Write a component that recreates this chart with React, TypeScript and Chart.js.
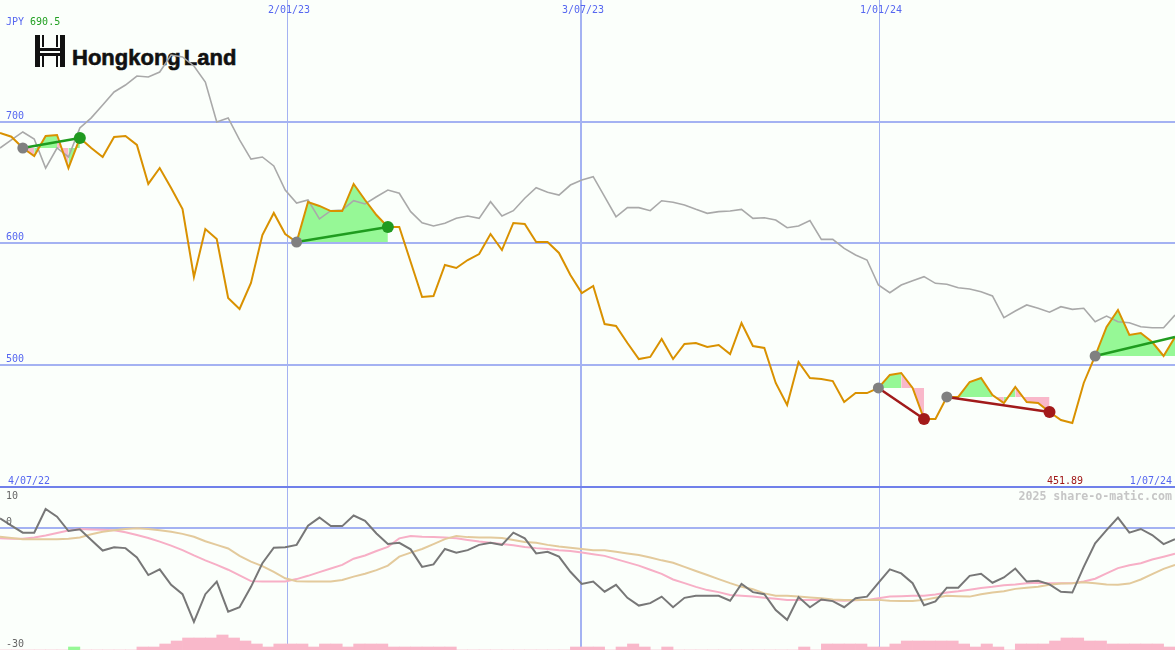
import React, { useEffect, useRef } from "react";
import { Chart, registerables } from "chart.js";

Chart.register(...registerables);

// ---------- data ----------
const currency = "JPY";
const startDateLabel = "4/07/22";
const endDateLabel = "1/07/24";
const watermark = "2025 share-o-matic.com";

// weekly closing price (index 0 = 4/07/22 ... 103 = 1/07/24)
const price = [
  690.5, 687.5, 678.2, 671.6, 688.1, 688.9, 661.7, 686.4, 678.2, 670.8,
  687.2, 688.1, 680.7, 648.6, 661.7, 645.3, 628.0, 572.0, 611.5, 603.3,
  554.7, 545.7, 567.1, 606.6, 624.7, 607.4, 600.8, 633.7, 630.5, 626.3,
  626.3, 648.6, 635.4, 623.0, 613.2, 613.2, 584.4, 555.6, 556.4, 581.9,
  579.4, 586.0, 590.9, 607.4, 594.2, 616.5, 615.6, 600.8, 600.8, 591.8,
  573.7, 558.8, 564.6, 533.3, 531.7, 517.7, 504.5, 506.2, 521.0, 504.5,
  516.9, 517.7, 514.4, 516.0, 508.6, 534.2, 515.2, 513.6, 484.8, 466.7,
  502.1, 488.9, 488.1, 486.4, 469.1, 476.5, 476.5, 480.7, 491.4, 493.0,
  480.7, 455.1, 455.1, 473.3, 473.3, 485.6, 488.9, 474.9, 468.3, 481.5,
  469.1, 468.3, 460.9, 454.3, 451.89, 484.8, 507.0, 530.9, 544.9, 524.3,
  525.9, 518.5, 507.0, 522.6,
];

// comparison (grey) line, same scale
const compare = [
  678.2, 684.8, 691.4, 685.6, 661.7, 678.2, 670.8, 694.7, 703.0, 713.6,
  724.3, 730.0, 737.4, 736.6, 740.7, 754.7, 753.1, 745.7, 732.5, 699.6,
  702.9, 684.8, 669.1, 670.8, 663.4, 643.6, 632.9, 635.4, 619.8, 626.6,
  627.2, 634.8, 632.1, 638.1, 643.6, 640.9, 625.8, 616.7, 614.0, 616.2,
  620.3, 622.2, 620.3, 634.0, 622.2, 626.6, 636.8, 645.5, 641.7, 639.5,
  647.7, 651.9, 654.6, 638.1, 621.6, 629.1, 629.1, 626.6, 634.8, 633.5,
  631.3, 627.7, 624.4, 625.8, 626.3, 627.7, 620.3, 620.8, 618.9, 612.6,
  614.0, 618.4, 603.0, 603.0, 595.6, 590.1, 586.0, 565.4, 559.1, 565.4,
  568.9, 572.3, 566.8, 566.0, 563.2, 562.1, 559.9, 556.4, 538.5, 544.0,
  549.0, 546.3, 543.0, 547.6, 545.4, 546.3, 535.2, 539.9, 535.2, 534.4,
  531.1, 530.3, 530.3, 540.7,
];

// oscillator (lower panel)
const osc = [
  2.3, 0.5, -1.2, -1.2, 4.6, 2.7, -0.8, -0.4, -3.0, -5.6,
  -4.8, -5.0, -7.3, -11.6, -10.2, -14.0, -16.3, -23.1, -16.3, -13.2,
  -20.6, -19.5, -14.5, -8.7, -4.9, -4.8, -4.2, 0.5, 2.5, 0.4,
  0.4, 3.0, 1.7, -1.4, -4.0, -3.7, -5.3, -9.6, -9.0, -5.2,
  -6.1, -5.5, -4.2, -3.7, -4.2, -1.2, -2.6, -6.3, -5.9, -7.1,
  -10.8, -13.8, -13.2, -15.7, -14.0, -17.2, -19.1, -18.5, -16.9, -19.5,
  -17.2, -16.7, -16.7, -16.7, -17.9, -13.8, -15.8, -16.3, -20.2, -22.6,
  -17.0, -19.5, -17.6, -18.0, -19.5, -17.3, -16.9, -13.5, -10.2, -11.2,
  -13.6, -19.0, -18.1, -14.7, -14.7, -11.8, -11.3, -13.5, -12.2, -10.0,
  -13.2, -13.0, -13.9, -15.7, -15.9, -9.6, -3.8, -0.6, 2.5, -1.2,
  -0.3, -1.8, -4.0, -2.8,
];

// pink average of oscillator
const oscFast = [
  -2.6, -2.7, -2.7, -2.4, -1.9, -1.3, -0.7, -0.3, -0.4, -0.5,
  -0.6, -1.1, -1.8, -2.5, -3.4, -4.4, -5.5, -6.8, -8.0, -9.1,
  -10.3, -11.7, -13.1, -13.2, -13.2, -13.2, -12.6, -11.8, -10.9, -10.0,
  -9.1, -7.6, -6.8, -5.7, -4.7, -2.6, -2.0, -2.2, -2.3, -2.4,
  -2.6, -3.0, -3.4, -3.7, -4.0, -4.3, -4.7, -5.0, -5.2, -5.5,
  -5.7, -6.1, -6.5, -6.9, -7.7, -8.5, -9.3, -10.3, -11.3, -12.7,
  -13.6, -14.5, -15.3, -15.8, -16.5, -16.7, -16.9, -17.2, -17.4, -17.7,
  -17.7, -17.7, -17.7, -17.8, -17.9, -17.8, -17.7, -17.3, -16.9, -16.8,
  -16.7, -16.7, -16.4, -15.9, -15.6, -15.2, -14.8, -14.5, -14.1, -13.9,
  -13.6, -13.5, -13.6, -13.6, -13.6, -13.2, -12.5, -11.2, -9.9, -9.2,
  -8.7, -7.8, -7.1, -6.4,
];

// tan average of oscillator
const oscSlow = [
  -2.2, -2.5, -2.8, -2.8, -2.8, -2.8, -2.7, -2.4, -1.6, -1.0,
  -0.6, -0.3, -0.1, -0.3, -0.6, -1.0, -1.5, -2.2, -3.3, -4.2,
  -5.1, -6.9, -8.3, -9.4, -10.8, -12.4, -13.1, -13.2, -13.2, -13.2,
  -12.8, -12.0, -11.3, -10.4, -9.3, -7.1, -6.1, -5.2, -4.0, -2.8,
  -2.0, -2.3, -2.4, -2.4, -2.5, -3.0, -3.5, -3.7, -4.2, -4.6,
  -4.9, -5.2, -5.5, -5.5, -5.9, -6.3, -6.7, -7.3, -8.0, -8.6,
  -9.6, -10.6, -11.6, -12.6, -13.6, -14.5, -15.1, -16.1, -16.7, -16.7,
  -16.9, -17.1, -17.3, -17.6, -17.7, -17.7, -17.7, -17.7, -17.9, -18.0,
  -18.0, -17.7, -17.2, -16.7, -16.8, -16.9, -16.3, -15.9, -15.6, -15.0,
  -14.7, -14.5, -14.0, -13.7, -13.6, -13.4, -13.6, -13.9, -14.0, -13.7,
  -12.7, -11.4, -10.1, -9.1,
];

// histogram per week interval (positive = green, negative = pink)
const histogram = [
  0, 0, 0, 0, 0, 0, 1, 0, 0, 0,
  0, 0, -1, -1, -2, -3, -4, -4, -4, -5,
  -4, -3, -2, -1, -2, -2, -2, -1, -2, -2,
  -1, -2, -2, -2, -1, -1, -1, -1, -1, -1,
  0, 0, 0, 0, 0, 0, 0, 0, 0, 0,
  -1, -1, -1, 0, -1, -2, -1, 0, -1, 0,
  0, 0, 0, 0, 0, 0, 0, 0, 0, 0,
  -1, 0, -2, -2, -2, -2, -1, -1, -2, -3,
  -3, -3, -3, -3, -2, -1, -2, -1, 0, -2,
  -2, -2, -3, -4, -4, -3, -3, -2, -2, -2,
  -2, -2, -1,
];

// tick labels
const priceGrid = [500, 600, 700];
const oscLabels = [10, 0, -30];
const oscGrid = [0];
const dateTickPos = [25.16, 50.93, 77.05];
const dateTickLabels = ["2/01/23", "3/07/23", "1/01/24"];

// signals (trend segments)
const signalStart = [2, 26, 77, 83, 96];
const signalEnd = [7, 34, 81, 92, 103];
const signalKind = ["buy", "buy", "sell", "sell", "buy"];
const signalEndDot = [true, true, true, true, false];

// shaded runs inside the signals
const fillFrom = [2, 3, 5, 6, 26, 77, 79, 83, 87, 88, 89, 96];
const fillTo = [3, 5, 6, 7, 34, 79, 81, 87, 88, 89, 92, 103];
const fillUp = [false, true, false, true, true, true, false, true, false, true, false, true];
const fillSignal = [0, 0, 0, 0, 1, 2, 2, 3, 3, 3, 3, 4];

// ---------- styles ----------
const BG = "#fbfffb";
const GRID = "#a4b2f2";
const SEP = "#7080ea";
const LABEL_BLUE = "#5667f0";
const FONT = "10px 'DejaVu Sans Mono', monospace";
const GREEN_FILL = "#96f896";
const PINK_FILL = "#f9b8ca";
const dateLineWidth = [1, 2, 1];

const pts = (arr: number[]) => arr.map((v, i) => ({ x: i, y: v }));

function drawDateLines(chart: any) {
  const { ctx, scales } = chart;
  ctx.save();
  ctx.fillStyle = GRID;
  dateTickPos.forEach((p, k) => {
    const px = Math.round(scales.x.getPixelForValue(p));
    const w = dateLineWidth[k];
    ctx.fillRect(px - (w > 1 ? 1 : 0), 0, w, chart.height);
  });
  ctx.restore();
}

const topDecor = {
  id: "topDecor",
  beforeDatasetsDraw(chart: any) {
    const { ctx, chartArea: a, scales } = chart;
    ctx.save();
    ctx.fillStyle = GRID;
    priceGrid.forEach((v) => {
      const py = Math.round(scales.y.getPixelForValue(v));
      ctx.fillRect(a.left, py - 1, a.right - a.left, 2);
    });
    ctx.restore();
    drawDateLines(chart);
  },
  afterDatasetsDraw(chart: any) {
    const { ctx, chartArea: a, scales } = chart;
    const maxP = Math.max(...price);
    const minP = Math.min(...price);
    ctx.save();
    ctx.font = FONT;
    ctx.textBaseline = "alphabetic";
    ctx.textAlign = "left";
    ctx.fillStyle = LABEL_BLUE;
    ctx.fillText(currency, 6, 25);
    const w = ctx.measureText(currency + " ").width;
    ctx.fillStyle = "#22a022";
    ctx.fillText(maxP.toFixed(1), 6 + w, 25);
    ctx.fillStyle = LABEL_BLUE;
    priceGrid.forEach((v) => {
      ctx.fillText(String(v), 6, scales.y.getPixelForValue(v) - 3);
    });
    ctx.textAlign = "center";
    dateTickPos.forEach((p, k) => {
      ctx.fillText(dateTickLabels[k], scales.x.getPixelForValue(p) + 2, 13);
    });
    ctx.textAlign = "left";
    ctx.fillText(startDateLabel, 8, a.bottom - 2);
    ctx.textAlign = "right";
    ctx.fillText(endDateLabel, a.right - 3, a.bottom - 2);
    ctx.fillStyle = "#a01818";
    ctx.fillText(minP.toFixed(2), a.right - 92, a.bottom - 2);
    ctx.restore();
  },
};

const botDecor = {
  id: "botDecor",
  beforeDatasetsDraw(chart: any) {
    const { ctx, chartArea: a, scales } = chart;
    ctx.save();
    ctx.fillStyle = GRID;
    oscGrid.forEach((v) => {
      const py = Math.round(scales.y.getPixelForValue(v));
      ctx.fillRect(a.left, py - 1, a.right - a.left, 2);
    });
    ctx.restore();
    drawDateLines(chart);
    ctx.save();
    ctx.fillStyle = SEP;
    ctx.fillRect(0, 0, chart.width, 2);
    ctx.restore();
  },
  afterDatasetsDraw(chart: any) {
    const { ctx, chartArea: a, scales } = chart;
    ctx.save();
    ctx.font = FONT;
    ctx.textAlign = "left";
    ctx.fillStyle = "#666666";
    oscLabels.forEach((v, k) => {
      const py = scales.y.getPixelForValue(v);
      const base = k === 0 ? py + 12 : py - 3;
      ctx.fillText(String(v), 6, base);
    });
    ctx.font = "bold 11.6px 'DejaVu Sans Mono', monospace";
    ctx.textAlign = "right";
    ctx.fillStyle = "#c6c6c6";
    ctx.fillText(watermark, a.right - 3, 14);
    ctx.restore();
  },
};

export default function App() {
  const topRef = useRef<HTMLCanvasElement | null>(null);
  const botRef = useRef<HTMLCanvasElement | null>(null);

  useEffect(() => {
    document.body.style.margin = "0";
    const xMax = price.length - 1;

    const fillSets = fillFrom.map((f, k) => ({
      type: "line",
      data: price.slice(f, fillTo[k] + 1).map((v, j) => ({ x: f + j, y: v })),
      borderWidth: 0,
      borderColor: "rgba(0,0,0,0)",
      backgroundColor: fillUp[k] ? GREEN_FILL : PINK_FILL,
      pointRadius: 0,
      fill: { value: price[signalStart[fillSignal[k]]] },
      order: 20,
    }));

    const trendSets = signalStart.map((s, k) => ({
      type: "line",
      data: [
        { x: s, y: price[s] },
        { x: signalEnd[k], y: price[signalEnd[k]] },
      ],
      borderColor: signalKind[k] === "buy" ? "#1f9c1f" : "#a11a1a",
      borderWidth: 2.5,
      pointRadius: 0,
      fill: false,
      order: 3,
    }));

    const endIdx = signalEnd.filter((_, k) => signalEndDot[k]);
    const endKinds = signalKind.filter((_, k) => signalEndDot[k]);

    const common = {
      responsive: false,
      maintainAspectRatio: false,
      animation: false,
      events: [],
      elements: { line: { tension: 0 } },
      plugins: { legend: { display: false }, tooltip: { enabled: false } },
    };

    const topChart = new Chart(topRef.current as HTMLCanvasElement, {
      type: "line",
      data: {
        datasets: [
          ...fillSets,
          {
            data: pts(compare),
            borderColor: "#a9a9a9",
            borderWidth: 1.6,
            pointRadius: 0,
            fill: false,
            order: 8,
          },
          {
            data: pts(price),
            borderColor: "#d99100",
            borderWidth: 2,
            pointRadius: 0,
            fill: false,
            order: 5,
          },
          ...trendSets,
          {
            data: signalStart.map((s) => ({ x: s, y: price[s] })),
            showLine: false,
            pointRadius: 5.5,
            pointBackgroundColor: "#808080",
            pointBorderColor: "#808080",
            pointBorderWidth: 0,
            order: 2,
          },
          {
            data: endIdx.map((e) => ({ x: e, y: price[e] })),
            showLine: false,
            pointRadius: 6,
            pointBackgroundColor: endKinds.map((k) => (k === "buy" ? "#209a20" : "#a31a1a")),
            pointBorderColor: endKinds.map((k) => (k === "buy" ? "#209a20" : "#a31a1a")),
            pointBorderWidth: 0,
            order: 1,
          },
        ] as any,
      },
      options: {
        ...common,
        layout: { autoPadding: false, padding: 0 },
        scales: {
          x: { type: "linear", min: 0, max: xMax, offset: false, display: false },
          y: { type: "linear", min: 400, max: 800, display: false },
        },
      },
      plugins: [topDecor],
    } as any);

    const botChart = new Chart(botRef.current as HTMLCanvasElement, {
      type: "line",
      data: {
        datasets: [
          {
            data: pts(osc),
            borderColor: "#777777",
            borderWidth: 2,
            pointRadius: 0,
            fill: false,
            order: 1,
          },
          {
            data: pts(oscSlow),
            borderColor: "#e3ca9c",
            borderWidth: 2,
            pointRadius: 0,
            fill: false,
            order: 2,
          },
          {
            data: pts(oscFast),
            borderColor: "#f7afc6",
            borderWidth: 2,
            pointRadius: 0,
            fill: false,
            order: 3,
          },
          {
            type: "bar",
            yAxisID: "yh",
            data: histogram.map((h, j) => ({ x: j + 0.5, y: Math.abs(h) })),
            backgroundColor: histogram.map((h) => (h > 0 ? GREEN_FILL : PINK_FILL)),
            borderWidth: 0,
            barPercentage: 1,
            categoryPercentage: 1,
            order: 10,
          },
        ] as any,
      },
      options: {
        ...common,
        layout: { autoPadding: false, padding: { top: 1, left: 0, right: 0, bottom: 0 } },
        scales: {
          x: {
            type: "linear",
            min: 0,
            max: xMax,
            offset: false,
            grid: { offset: false },
            display: false,
          },
          y: { type: "linear", min: -30, max: 10, display: false },
          yh: { type: "linear", min: 0, max: 54.3, display: false },
        },
      },
      plugins: [botDecor],
    } as any);

    return () => {
      topChart.destroy();
      botChart.destroy();
    };
  }, []);

  const bar = (l: number, t: number, w: number, h: number) => (
    <div style={{ position: "absolute", left: l, top: t, width: w, height: h, background: "#111" }} />
  );

  return (
    <div
      style={{
        position: "absolute",
        left: 0,
        top: 0,
        width: 1175,
        height: 650,
        background: BG,
        overflow: "hidden",
      }}
    >
      <div style={{ position: "absolute", left: 35, top: 35, width: 30, height: 32 }}>
        {bar(0, 0, 5, 32)}
        {bar(7, 0, 2, 12)}
        {bar(7, 21, 2, 11)}
        {bar(21, 0, 2, 12)}
        {bar(21, 21, 2, 11)}
        {bar(25, 0, 5, 32)}
        {bar(0, 13, 30, 3)}
        {bar(0, 18, 30, 3)}
      </div>
      <div
        style={{
          position: "absolute",
          left: 72,
          top: 47,
          fontFamily: "'Liberation Sans', Arial, sans-serif",
          fontWeight: 700,
          fontSize: 22,
          lineHeight: "22px",
          letterSpacing: "0px",
          wordSpacing: "-3px",
          color: "#111",
          WebkitTextStroke: "0.6px #111",
          whiteSpace: "nowrap",
        }}
      >
        Hongkong Land
      </div>
      <canvas
        ref={topRef}
        width={1175}
        height={486}
        style={{ position: "absolute", left: 0, top: 0 }}
      />
      <canvas
        ref={botRef}
        width={1175}
        height={164}
        style={{ position: "absolute", left: 0, top: 486 }}
      />
    </div>
  );
}
